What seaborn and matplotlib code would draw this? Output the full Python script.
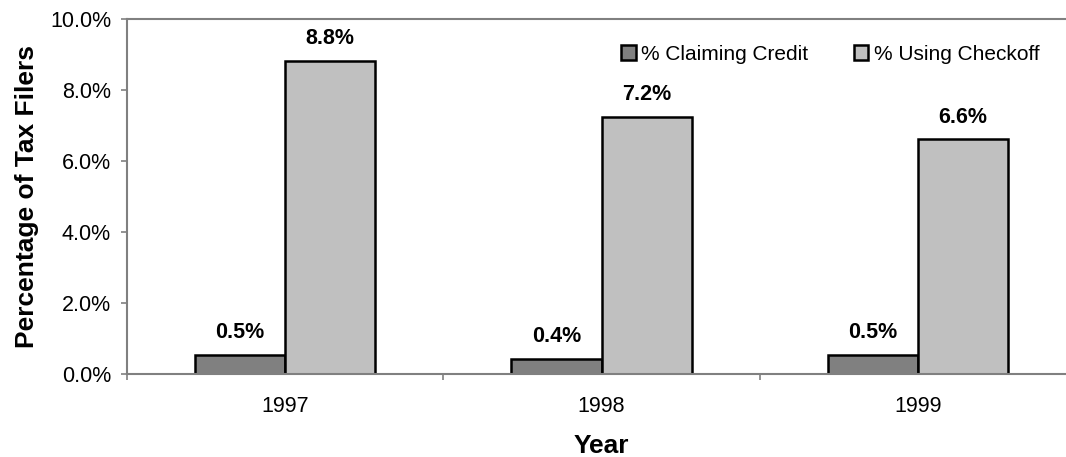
import matplotlib
matplotlib.use("Agg")
import matplotlib.pyplot as plt
from matplotlib.ticker import FuncFormatter, FixedLocator
import seaborn as sns
import pandas as pd

years = ["1997", "1998", "1999"]
claiming_credit = [0.53, 0.42, 0.54]
using_checkoff = [8.82, 7.25, 6.61]
series_names = ["% Claiming Credit", "% Using Checkoff"]
y_ticks = [0, 2, 4, 6, 8, 10]

df = pd.DataFrame({
    "Year": years * 2,
    "value": claiming_credit + using_checkoff,
    "series": [series_names[0]] * 3 + [series_names[1]] * 3,
})

sns.set_style("white")
plt.rcParams["font.family"] = ["Liberation Sans", "DejaVu Sans"]
plt.rcParams["text.color"] = "black"
plt.rcParams["axes.labelcolor"] = "black"

fig = plt.figure(figsize=(10.66, 4.57), dpi=100)
ax = fig.add_axes([127 / 1066, 83 / 457, 949 / 1066, 355 / 457])

palette = {series_names[0]: "#808080", series_names[1]: "#C0C0C0"}
sns.barplot(data=df, x="Year", y="value", hue="series", palette=palette,
            width=0.57, gap=0, edgecolor="black", linewidth=1.8,
            saturation=1, ax=ax, legend=True)

# value labels above each bar
for container in ax.containers:
    for bar in container:
        h = bar.get_height()
        ax.annotate(f"{h:.1f}%", (bar.get_x() + bar.get_width() / 2, h),
                    xytext=(0, 8.5), textcoords="offset points",
                    ha="center", va="bottom", fontsize=15.5, fontweight="bold",
                    color="black")

ax.set_ylim(0, 10)
ax.set_xlim(-0.5, 2.5)
ax.yaxis.set_major_locator(FixedLocator(y_ticks))
ax.yaxis.set_major_formatter(FuncFormatter(lambda v, p: f"{v:.1f}%"))

# category boundaries carry the tick marks, centres carry the labels
ax.set_xticks([-0.5, 0.5, 1.5, 2.5])
ax.set_xticklabels([])
ax.set_xticks([0, 1, 2], minor=True)
ax.set_xticklabels(years, minor=True)
ax.tick_params(axis="x", which="major", length=4.5, width=1.2, color="#808080",
               direction="out", bottom=True)
ax.tick_params(axis="x", which="minor", length=0, pad=16, labelsize=15.5,
               labelcolor="black")
ax.tick_params(axis="y", length=4.5, width=1.2, color="#808080",
               direction="out", left=True, labelsize=15.5, pad=7,
               labelcolor="black")

for side in ["left", "bottom", "top"]:
    ax.spines[side].set_visible(True)
    ax.spines[side].set_color("#808080")
    ax.spines[side].set_linewidth(1.5)
ax.spines["right"].set_visible(False)

ax.set_xlabel("Year", fontsize=19, fontweight="bold", labelpad=12, color="black")
ax.set_ylabel("Percentage of Tax Filers", fontsize=19, fontweight="bold",
              labelpad=8, color="black")

handles, labels = ax.get_legend_handles_labels()
for h in handles:
    h.set_linewidth(1.8)
ax.legend(handles, labels, ncol=2, frameon=False, loc="upper right",
          bbox_to_anchor=(0.97, 0.95), fontsize=15, handlelength=0.7,
          handleheight=0.7, handletextpad=0.25, borderaxespad=0,
          columnspacing=2.2, labelcolor="black")

fig.savefig("out.png", dpi=100)
